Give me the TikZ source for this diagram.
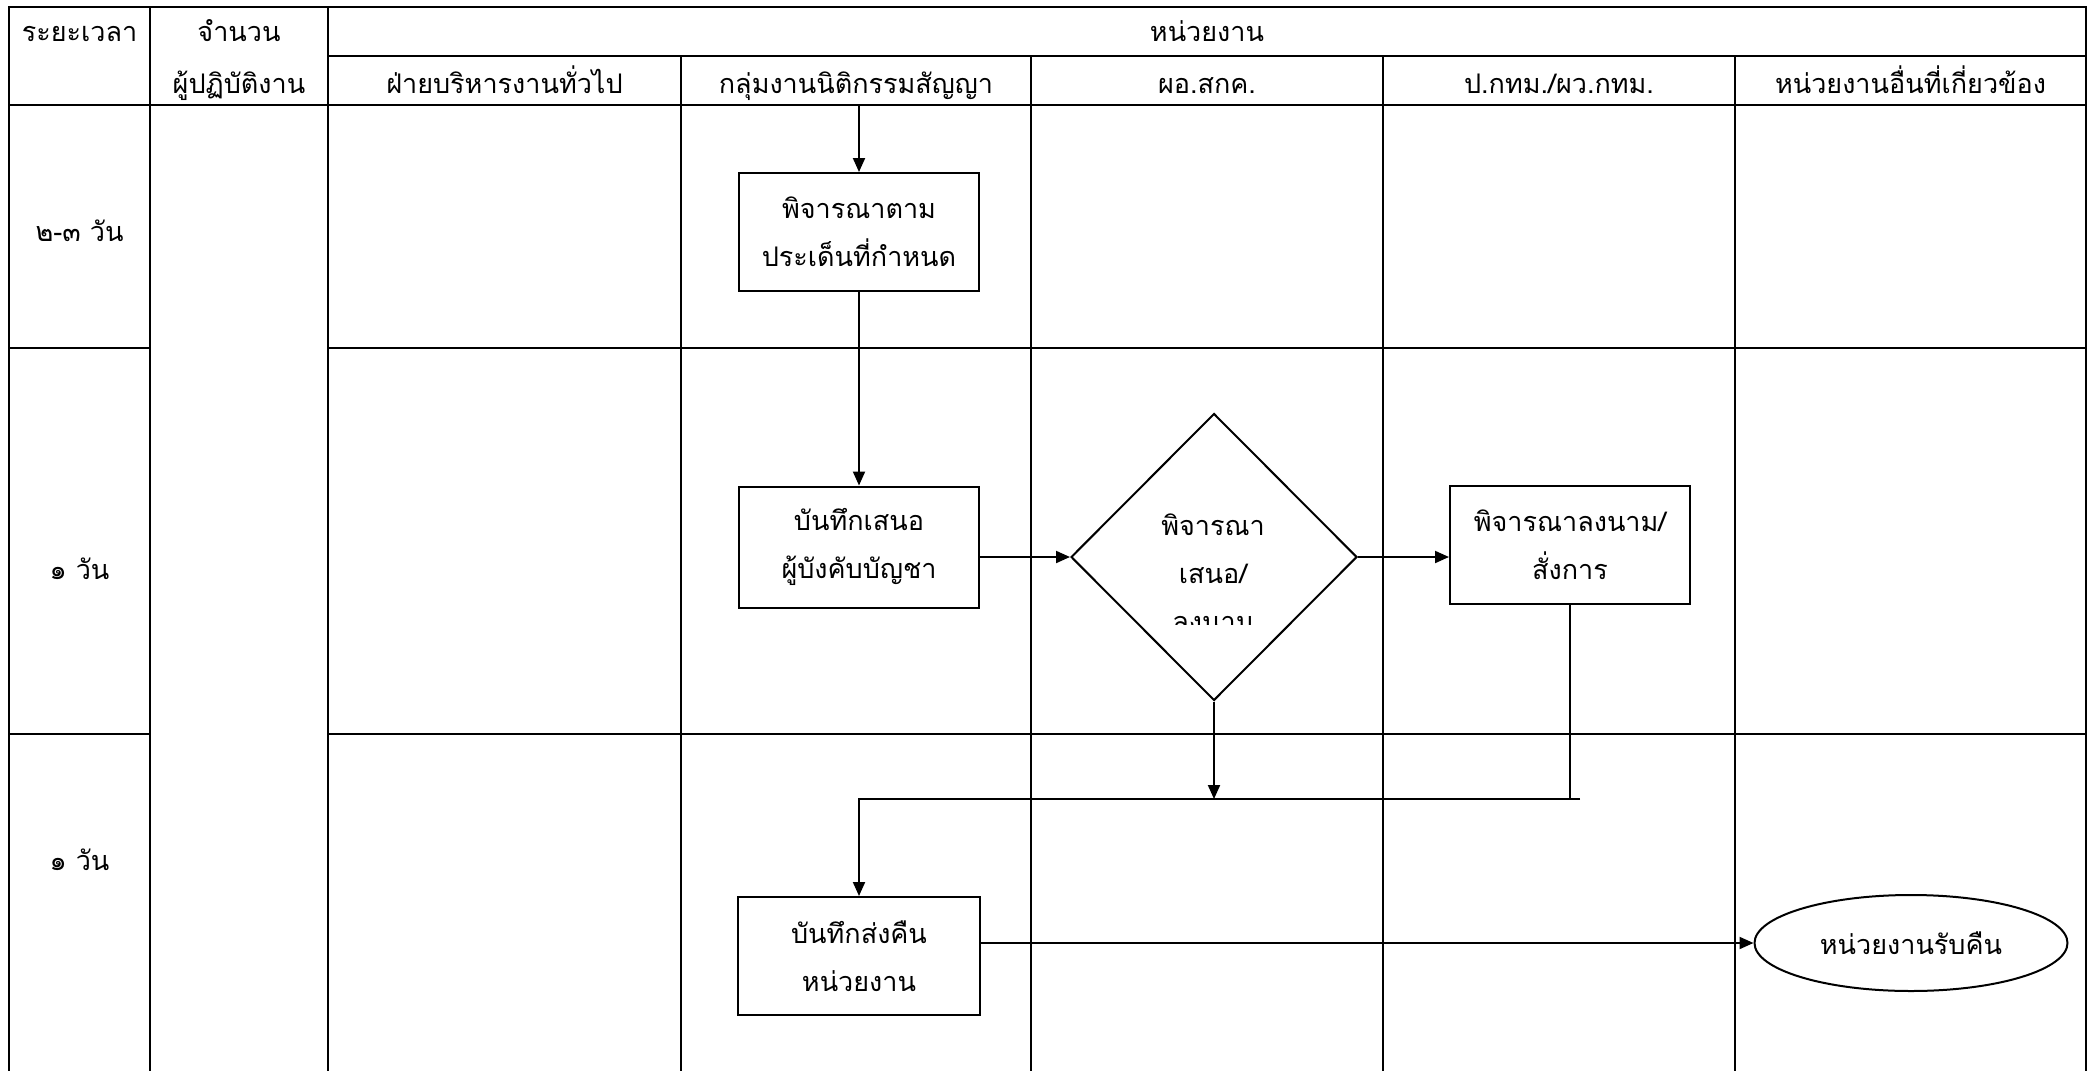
\documentclass[tikz,border=0pt]{standalone}
\usepackage{fontspec}
\setmainfont{Loma}[Script=Thai]
\usetikzlibrary{arrows.meta,shapes.geometric}
\begin{document}
\begin{tikzpicture}[x=1pt,y=-1pt,
  every node/.style={font=\fontsize{27}{48}\selectfont},
  rule/.style={line width=2pt},
  head/.style={anchor=base, inner sep=0pt},
  procbox/.style={draw, line width=2pt, minimum width=240pt, minimum height=118pt,
    align=center, inner sep=0pt},
  link/.style={line width=2pt},
  arr/.style={line width=2pt, -{Triangle[length=14pt,width=12pt]}}]
\useasboundingbox (0,0) rectangle (2089,1071);
\fill[white] (0,0) rectangle (2089,1071);

% table frame
\draw[rule] (9,1071) -- (9,7) -- (2086,7) -- (2086,1071);
\draw[rule] (328,56) -- (2086,56);
\draw[rule] (9,105) -- (2086,105);
\foreach \x in {150,328} \draw[rule] (\x,7) -- (\x,1071);
\foreach \x in {681,1031,1383,1735} \draw[rule] (\x,56) -- (\x,1071);
\foreach \y in {348,734} {
  \draw[rule] (9,\y) -- (150,\y);
  \draw[rule] (328,\y) -- (2086,\y);
}

% header texts
\node[head] (hTime) at (79.5,41) {ระยะเวลา};
\node[head] (hCount1) at (239,41) {จำนวน};
\node[head] (hCount2) at (239,93) {ผู้ปฏิบัติงาน};
\node[head] (hUnit) at (1207,41) {หน่วยงาน};
\node[head] (c1) at (504.5,93) {ฝ่ายบริหารงานทั่วไป};
\node[head] (c2) at (856,93) {กลุ่มงานนิติกรรมสัญญา};
\node[head] (c3) at (1207,93) {ผอ.สกค.};
\node[head] (c4) at (1559,93) {ป.กทม./ผว.กทม.};
\node[head] (c5) at (1910.5,93) {หน่วยงานอื่นที่เกี่ยวข้อง};

% durations
\node[head] (t1) at (79.5,241) {๒-๓ วัน};
\node[head] (t2) at (79.5,579) {๑ วัน};
\node[head] (t3) at (79.5,870) {๑ วัน};

% flow shapes
\node[procbox] (b1) at (859,232) {พิจารณาตาม\\ประเด็นที่กำหนด};
\node[procbox, minimum height=121pt] (b2) at (859,547) {บันทึกเสนอ\\ผู้บังคับบัญชา};
\node[procbox] (b3) at (1570,545) {พิจารณาลงนาม/\\สั่งการ};
\node[procbox, minimum width=242pt] (b4) at (859,956) {บันทึกส่งคืน\\หน่วยงาน};
\node[draw, diamond, line width=2pt, minimum width=286pt, minimum height=287pt,
  inner sep=0pt] (d) at (1214,557) {};
% the decision text is cut off inside its frame
\begin{scope}
  \clip (1040,470) rectangle (1390,624);
  \node[align=center, inner sep=0pt] (dtext) at (1213,573) {พิจารณา\\เสนอ/\\ลงนาม};
\end{scope}
\node[draw, ellipse, line width=2pt, minimum width=313pt, minimum height=96pt,
  inner sep=0pt] (e) at (1911,943) {หน่วยงานรับคืน};

% connectors
\coordinate (start) at (859,105);
\coordinate (bend) at (859,799);
\coordinate (tail) at (1580,799);
\draw[arr] (start) -- (b1);
\draw[arr] (b1) -- (b2);
\draw[arr] (b2.east |- d.west) -- (d.west);
\draw[arr] (d.east) -- (b3.west |- d.east);
\draw[link] (b3.south) -- (b3.south |- tail);
\draw[arr] (d.south) -- (d.south |- tail);
\draw[arr] (tail) -- (bend) -- (b4.north);
\draw[arr] (b4.east |- e.west) -- (e.west);
\end{tikzpicture}
\end{document}
